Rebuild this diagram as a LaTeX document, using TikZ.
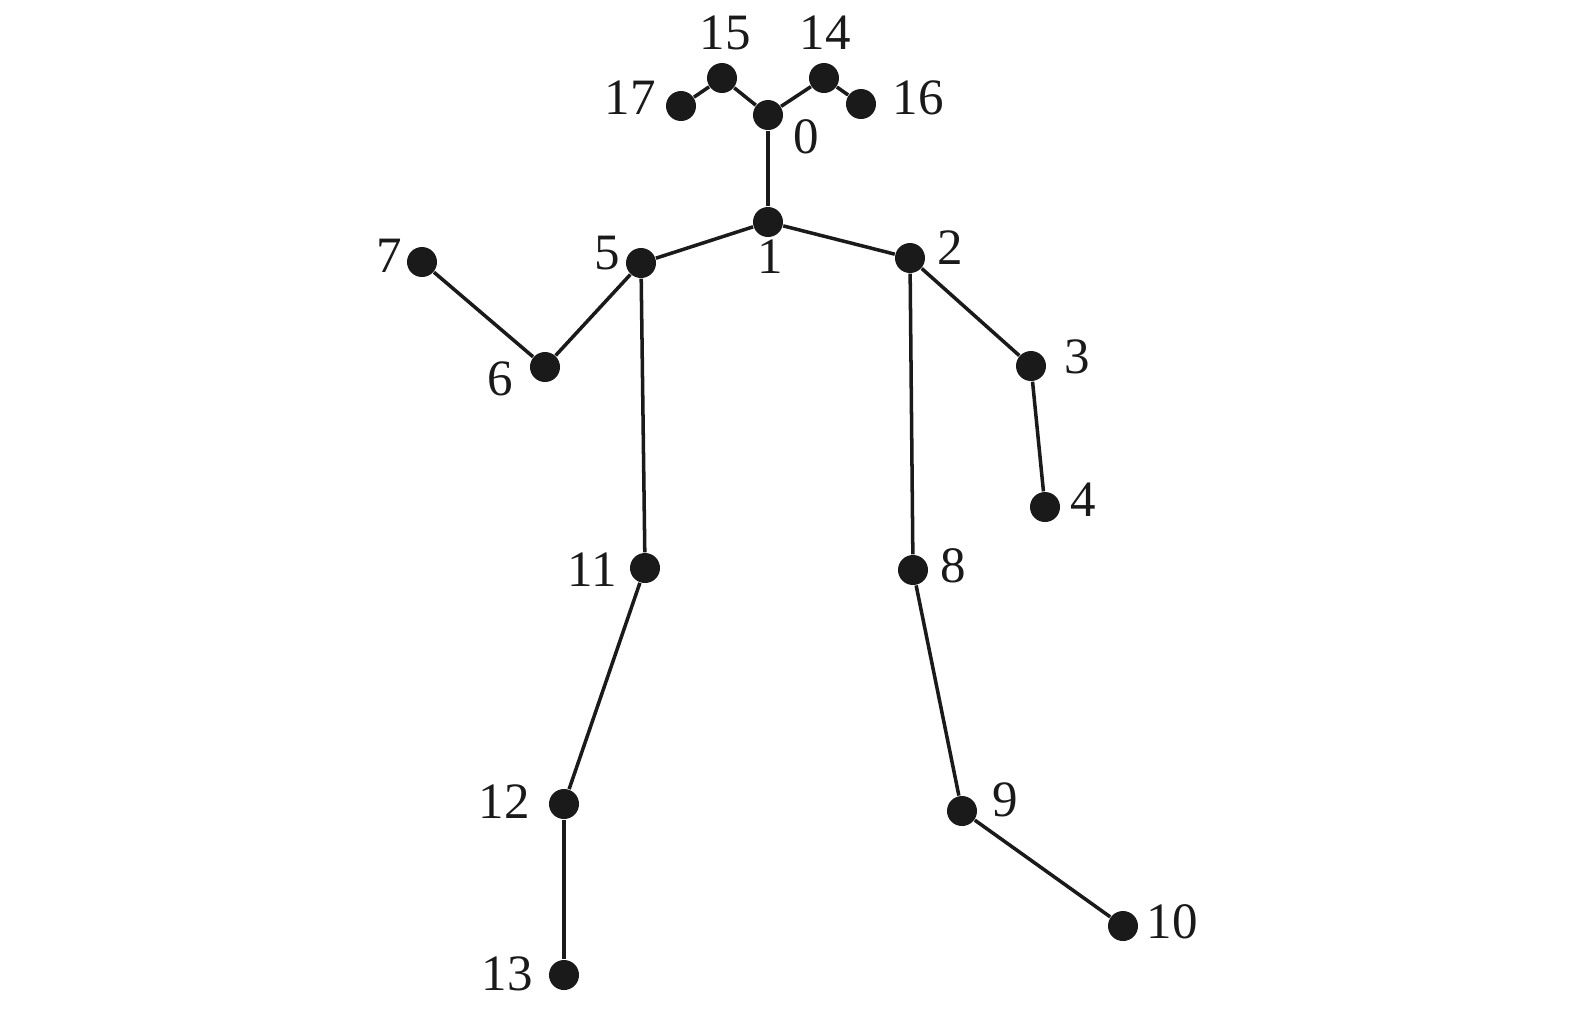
\documentclass[tikz,border=0pt]{standalone}
\usepackage{fontspec}
\setmainfont{Liberation Serif}
\usepackage{tikz}
\usetikzlibrary{positioning}
\definecolor{bonegraphite}{HTML}{1A1A1A}

\begin{document}
\begin{tikzpicture}[x=0.01cm,y=-0.01cm,
  joint/.style={circle,fill=bonegraphite,inner sep=0pt,minimum size=3mm},
  bone/.style={line width=1pt,bonegraphite},
  idx/.style={inner sep=0pt,font=\fontsize{14.5}{16}\selectfont,text=bonegraphite}]
  \useasboundingbox (0,0) rectangle (1575,1014);
  % keypoints
  \node[joint] (j0) at (768,115) {};
  \node[joint] (j1) at (768,222) {};
  \node[joint] (j2) at (910,258) {};
  \node[joint] (j3) at (1031,366) {};
  \node[joint] (j4) at (1045,507) {};
  \node[joint] (j5) at (641,263) {};
  \node[joint] (j6) at (545,367) {};
  \node[joint] (j7) at (422,262) {};
  \node[joint] (j8) at (913,570) {};
  \node[joint] (j9) at (962,811) {};
  \node[joint] (j10) at (1123,926) {};
  \node[joint] (j11) at (645,568) {};
  \node[joint] (j12) at (564,804) {};
  \node[joint] (j13) at (564,975) {};
  \node[joint] (j14) at (824,78) {};
  \node[joint] (j15) at (722,78) {};
  \node[joint] (j16) at (861,104) {};
  \node[joint] (j17) at (681,106) {};
  % indices
  \node[idx] (n0) at (806,137) {0};
  \node[idx] (n1) at (770,257) {1};
  \node[idx] (n2) at (950,248) {2};
  \node[idx] (n3) at (1077,357) {3};
  \node[idx] (n4) at (1083,500) {4};
  \node[idx] (n5) at (607,253) {5};
  \node[idx] (n6) at (500,379) {6};
  \node[idx] (n7) at (389,256) {7};
  \node[idx] (n8) at (953,566) {8};
  \node[idx] (n9) at (1005,800) {9};
  \node[idx] (n10) at (1172,922) {10};
  \node[idx] (n11) at (592,570) {11};
  \node[idx] (n12) at (504,802) {12};
  \node[idx] (n13) at (507,974) {13};
  \node[idx] (n14) at (825,33) {14};
  \node[idx] (n15) at (725,33) {15};
  \node[idx] (n16) at (918,98) {16};
  \node[idx] (n17) at (630,98) {17};
  % limbs
  \foreach \a/\b in {0/1,1/2,2/3,3/4,1/5,5/6,6/7,2/8,8/9,9/10,5/11,11/12,12/13,0/14,14/16,0/15,15/17}
    \draw[bone] (j\a) -- (j\b);
\end{tikzpicture}
\end{document}
